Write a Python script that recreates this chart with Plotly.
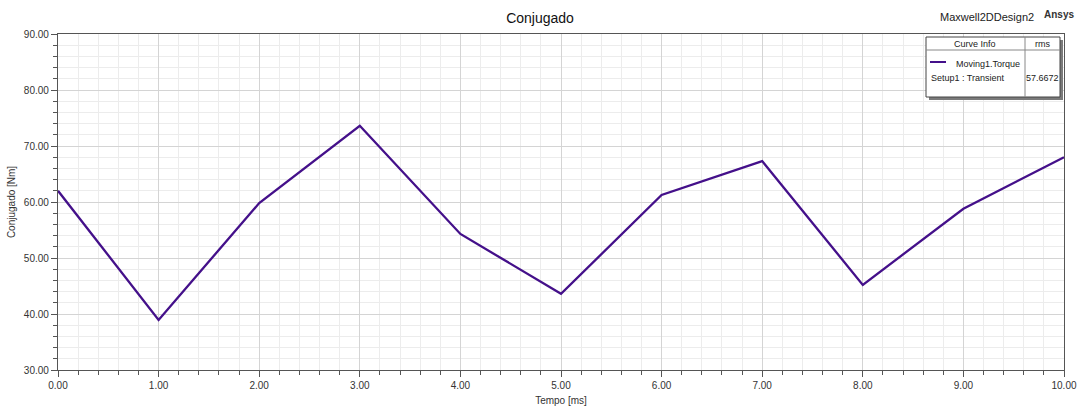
import plotly.graph_objects as go

tempo_ms = [0, 1, 2, 3, 4, 5, 6, 7, 8, 9, 10]
torque_nm = [62.0, 38.95, 59.8, 73.6, 54.3, 43.6, 61.25, 67.3, 45.2, 58.8, 68.0]
x_ticks = [0, 1, 2, 3, 4, 5, 6, 7, 8, 9, 10]
y_ticks = [30, 40, 50, 60, 70, 80, 90]
rms_value = "57.6672"

FONT = "Liberation Sans, Arial, sans-serif"
LINE_COLOR = "#44108a"

fig = go.Figure()
fig.add_trace(go.Scatter(x=tempo_ms, y=torque_nm, mode="lines",
                         line=dict(color=LINE_COLOR, width=2.3),
                         showlegend=False, hoverinfo="x+y"))

axis_common = dict(
    showline=True, linecolor="#555555", linewidth=1.2, mirror=True,
    ticks="outside", ticklen=6, tickcolor="#555555", tickwidth=1,
    showgrid=True, gridcolor="#d4d4d4", gridwidth=1,
    zeroline=False, automargin=False,
    tickfont=dict(family=FONT, size=10, color="#333333"),
)

fig.update_xaxes(
    range=[0, 10], tickvals=x_ticks, ticktext=[f"{v:.2f}" for v in x_ticks],
    title=dict(text="Tempo [ms]", font=dict(family=FONT, size=10, color="#333333"), standoff=6),
    minor=dict(dtick=0.2, ticks="outside", ticklen=4, tickcolor="#555555",
               showgrid=True, gridcolor="#ececec", gridwidth=1),
    **axis_common,
)
fig.update_yaxes(
    range=[30, 90], tickvals=y_ticks, ticktext=[f"{v:.2f}" for v in y_ticks],
    title=dict(text="Conjugado [Nm]", font=dict(family=FONT, size=10, color="#333333"), standoff=6),
    minor=dict(dtick=2, ticks="outside", ticklen=4, tickcolor="#555555",
               showgrid=True, gridcolor="#ececec", gridwidth=1),
    **axis_common,
)

L, R, T, B = 58, 15, 34, 38
W, H = 1079, 408
pw, ph = W - L - R, H - T - B

def px(x):
    return (x - L) / pw

def py(y):
    return (H - B - y) / ph

# legend box
bx0, bx1, by0, by1 = 926, 1060, 37, 97
shapes = [
    dict(type="rect", xref="paper", yref="paper", x0=px(bx0 + 3), x1=px(bx1 + 3),
         y0=py(by1 + 3), y1=py(by0 + 3), fillcolor="#7a7a7a", line=dict(width=0)),
    dict(type="rect", xref="paper", yref="paper", x0=px(bx0), x1=px(bx1),
         y0=py(by1), y1=py(by0), fillcolor="white", line=dict(color="#444444", width=1)),
    dict(type="line", xref="paper", yref="paper", x0=px(bx0), x1=px(bx1),
         y0=py(50), y1=py(50), line=dict(color="#888888", width=1)),
    dict(type="line", xref="paper", yref="paper", x0=px(1025), x1=px(1025),
         y0=py(by1), y1=py(by0), line=dict(color="#888888", width=1)),
    dict(type="line", xref="paper", yref="paper", x0=px(930), x1=px(946),
         y0=py(62), y1=py(62), line=dict(color=LINE_COLOR, width=2)),
]

ann_font = dict(family=FONT, size=9, color="#222222")
annotations = [
    dict(text="Curve Info", x=px(975), y=py(44), xref="paper", yref="paper",
         showarrow=False, font=ann_font, xanchor="center", yanchor="middle"),
    dict(text="rms", x=px(1042), y=py(44), xref="paper", yref="paper",
         showarrow=False, font=ann_font, xanchor="center", yanchor="middle"),
    dict(text="Moving1.Torque", x=px(954), y=py(64), xref="paper", yref="paper",
         showarrow=False, font=ann_font, xanchor="left", yanchor="middle"),
    dict(text="Setup1 : Transient", x=px(929), y=py(78), xref="paper", yref="paper",
         showarrow=False, font=ann_font, xanchor="left", yanchor="middle"),
    dict(text=rms_value, x=px(1042), y=py(78), xref="paper", yref="paper",
         showarrow=False, font=ann_font, xanchor="center", yanchor="middle"),
    dict(text="Maxwell2DDesign2", x=px(1036), y=py(17), xref="paper", yref="paper",
         showarrow=False, font=dict(family=FONT, size=11, color="#222222"),
         xanchor="right", yanchor="middle"),
    dict(text="<b>Ansys</b>", x=px(1076), y=py(15), xref="paper", yref="paper",
         showarrow=False, font=dict(family=FONT, size=10, color="#333333"),
         xanchor="right", yanchor="middle"),
]

fig.update_layout(
    width=W, height=H,
    margin=dict(l=L, r=R, t=T, b=B),
    paper_bgcolor="white", plot_bgcolor="white",
    title=dict(text="Conjugado", x=540 / W, xanchor="center",
               y=1 - 18 / H, yanchor="middle",
               font=dict(family=FONT, size=14, color="#111111")),
    shapes=shapes, annotations=annotations,
    font=dict(family=FONT),
)

# remove the browser's default page margin so the figure fills the window exactly
fig.write_html("out.html",
               config={"displayModeBar": False},
               post_script="document.body.style.margin='0';document.body.style.overflow='hidden';")
